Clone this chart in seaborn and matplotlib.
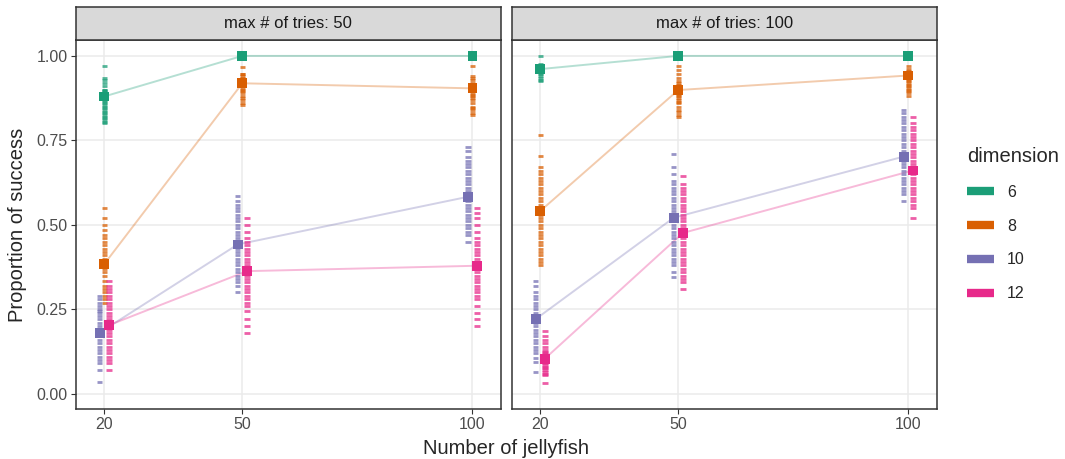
import matplotlib
matplotlib.use("Agg")
import numpy as np
import pandas as pd
import matplotlib.pyplot as plt
import seaborn as sns
from matplotlib.lines import Line2D

n_jellyfish = [20, 50, 100]
dimensions = [6, 8, 10, 12]
max_tries = [50, 100]
colors = ["#1B9E77", "#D95F02", "#7570B3", "#E7298A"]

# mean proportion of success, per dimension, at 20 / 50 / 100 jellyfish
mean_t50 = {6: [0.88, 1.0, 1.0], 8: [0.384, 0.919, 0.904],
            10: [0.181, 0.442, 0.583], 12: [0.203, 0.363, 0.379]}
mean_t100 = {6: [0.961, 1.0, 1.0], 8: [0.541, 0.899, 0.942],
             10: [0.221, 0.521, 0.702], 12: [0.104, 0.476, 0.661]}

# resampled proportions (the short dashes)
samples_t50_n20 = {
    6: [0.97, 0.935, 0.93, 0.92, 0.91, 0.90, 0.90, 0.895, 0.89, 0.885, 0.88, 0.88, 0.875, 0.87,
        0.865, 0.86, 0.855, 0.85, 0.845, 0.84, 0.835, 0.83, 0.825, 0.82, 0.815, 0.81, 0.805, 0.80],
    8: [0.55, 0.52, 0.50, 0.485, 0.47, 0.46, 0.45, 0.44, 0.43, 0.42, 0.41, 0.40, 0.39, 0.385, 0.38,
        0.375, 0.37, 0.36, 0.35, 0.335, 0.32, 0.31, 0.30, 0.29, 0.28, 0.27],
    10: [0.29, 0.28, 0.27, 0.26, 0.25, 0.245, 0.24, 0.23, 0.22, 0.21, 0.20, 0.19, 0.185, 0.18,
         0.175, 0.17, 0.16, 0.15, 0.14, 0.13, 0.12, 0.11, 0.10, 0.09, 0.07, 0.036],
    12: [0.335, 0.32, 0.31, 0.30, 0.29, 0.28, 0.27, 0.26, 0.25, 0.24, 0.23, 0.22, 0.21, 0.205,
         0.20, 0.195, 0.19, 0.18, 0.17, 0.16, 0.15, 0.14, 0.13, 0.12, 0.11, 0.10, 0.09, 0.07],
}
samples_t50_n50 = {
    6: [1.0],
    8: [0.968, 0.947, 0.945, 0.94, 0.935, 0.93, 0.925, 0.92, 0.915, 0.91, 0.905, 0.90, 0.895,
        0.89, 0.88, 0.875, 0.87, 0.86, 0.855],
    10: [0.585, 0.57, 0.56, 0.55, 0.54, 0.53, 0.52, 0.51, 0.50, 0.49, 0.48, 0.47, 0.46, 0.45,
         0.445, 0.44, 0.435, 0.43, 0.42, 0.41, 0.40, 0.39, 0.38, 0.37, 0.36, 0.35, 0.34, 0.33,
         0.32, 0.30],
    12: [0.52, 0.50, 0.48, 0.46, 0.45, 0.44, 0.43, 0.42, 0.41, 0.40, 0.39, 0.38, 0.37, 0.365,
         0.36, 0.355, 0.35, 0.34, 0.33, 0.32, 0.31, 0.30, 0.29, 0.28, 0.27, 0.26, 0.245, 0.22,
         0.20, 0.18],
}
samples_t50_n100 = {
    6: [1.0],
    8: [0.97, 0.94, 0.935, 0.93, 0.92, 0.915, 0.91, 0.905, 0.90, 0.895, 0.89, 0.885, 0.88,
        0.875, 0.87, 0.86, 0.85, 0.845, 0.84, 0.83, 0.825],
    10: [0.73, 0.72, 0.70, 0.69, 0.68, 0.67, 0.66, 0.65, 0.64, 0.63, 0.62, 0.61, 0.60, 0.59,
         0.585, 0.58, 0.575, 0.57, 0.56, 0.55, 0.54, 0.53, 0.52, 0.51, 0.50, 0.49, 0.48, 0.47,
         0.45],
    12: [0.55, 0.535, 0.52, 0.50, 0.48, 0.46, 0.45, 0.44, 0.43, 0.42, 0.41, 0.40, 0.39, 0.385,
         0.38, 0.375, 0.37, 0.36, 0.35, 0.34, 0.33, 0.32, 0.31, 0.30, 0.29, 0.28, 0.26, 0.24,
         0.22, 0.20],
}
samples_t100_n20 = {
    6: [1.0, 0.975, 0.97, 0.965, 0.96, 0.955, 0.95, 0.945, 0.94, 0.935, 0.93, 0.925],
    8: [0.765, 0.705, 0.67, 0.66, 0.65, 0.64, 0.63, 0.62, 0.61, 0.60, 0.59, 0.58, 0.57, 0.56,
        0.55, 0.545, 0.54, 0.535, 0.53, 0.52, 0.51, 0.50, 0.49, 0.48, 0.47, 0.46, 0.45, 0.44,
        0.43, 0.42, 0.41, 0.40, 0.39, 0.38],
    10: [0.335, 0.32, 0.30, 0.29, 0.28, 0.27, 0.26, 0.25, 0.24, 0.23, 0.225, 0.22, 0.215, 0.21,
         0.20, 0.19, 0.18, 0.17, 0.16, 0.15, 0.14, 0.13, 0.12, 0.105, 0.095, 0.066],
    12: [0.185, 0.17, 0.16, 0.15, 0.14, 0.13, 0.125, 0.12, 0.115, 0.11, 0.105, 0.10, 0.095,
         0.09, 0.085, 0.08, 0.075, 0.07, 0.065, 0.06, 0.055, 0.033],
}
samples_t100_n50 = {
    6: [1.0],
    8: [0.97, 0.958, 0.945, 0.935, 0.925, 0.92, 0.915, 0.91, 0.905, 0.90, 0.895, 0.89, 0.885,
        0.88, 0.875, 0.87, 0.865, 0.86, 0.85, 0.84, 0.835, 0.825, 0.82],
    10: [0.71, 0.67, 0.65, 0.63, 0.62, 0.61, 0.60, 0.59, 0.58, 0.57, 0.56, 0.55, 0.54, 0.53,
         0.525, 0.52, 0.515, 0.51, 0.50, 0.49, 0.48, 0.47, 0.46, 0.45, 0.44, 0.43, 0.42, 0.41,
         0.40, 0.39, 0.38, 0.36, 0.345],
    12: [0.645, 0.62, 0.61, 0.60, 0.59, 0.58, 0.57, 0.56, 0.55, 0.54, 0.53, 0.52, 0.51, 0.50,
         0.49, 0.48, 0.475, 0.47, 0.46, 0.45, 0.44, 0.43, 0.42, 0.41, 0.40, 0.39, 0.38, 0.37,
         0.36, 0.35, 0.34, 0.33, 0.31],
}
samples_t100_n100 = {
    6: [1.0],
    8: [0.97, 0.96, 0.955, 0.95, 0.945, 0.94, 0.935, 0.93, 0.925, 0.92, 0.915, 0.91, 0.905,
        0.90, 0.895, 0.89, 0.88],
    10: [0.84, 0.83, 0.82, 0.81, 0.80, 0.79, 0.78, 0.77, 0.76, 0.75, 0.74, 0.73, 0.72, 0.71,
         0.705, 0.70, 0.695, 0.69, 0.68, 0.67, 0.66, 0.65, 0.64, 0.63, 0.62, 0.61, 0.60, 0.59,
         0.57],
    12: [0.82, 0.80, 0.79, 0.78, 0.77, 0.76, 0.75, 0.74, 0.73, 0.72, 0.71, 0.70, 0.69, 0.68,
         0.67, 0.665, 0.66, 0.655, 0.65, 0.64, 0.63, 0.62, 0.61, 0.60, 0.59, 0.58, 0.57, 0.56,
         0.55, 0.52],
}

means = {50: mean_t50, 100: mean_t100}
samples = {
    (50, 20): samples_t50_n20, (50, 50): samples_t50_n50, (50, 100): samples_t50_n100,
    (100, 20): samples_t100_n20, (100, 50): samples_t100_n50, (100, 100): samples_t100_n100,
}

# small horizontal dodge so the groups don't sit on top of each other
dodge = {6: 0.0, 8: 0.0, 10: -1.0, 12: 1.0}
palette = dict(zip(dimensions, colors))

mean_rows = []
for t in max_tries:
    for d in dimensions:
        for n, v in zip(n_jellyfish, means[t][d]):
            mean_rows.append({"tries": t, "dimension": d, "n": n, "x": n + dodge[d], "prop": v})
mean_df = pd.DataFrame(mean_rows)

sample_rows = []
for (t, n), grp in samples.items():
    for d in dimensions:
        for v in grp[d]:
            sample_rows.append({"tries": t, "dimension": d, "n": n, "x": n + dodge[d], "prop": v})
sample_df = pd.DataFrame(sample_rows)

sns.set_theme(style="white")
plt.rcParams["font.family"] = ["Liberation Sans", "DejaVu Sans"]

fig = plt.figure(figsize=(10.65, 4.59), dpi=100)
panel_pos = [(0.0711, 0.3993), (0.4805, 0.3991)]
edge = "#333333"

for i, t in enumerate(max_tries):
    left, width = panel_pos[i]
    ax = fig.add_axes([left, 0.1089, width, 0.8039])
    m = mean_df[mean_df.tries == t]
    s = sample_df[sample_df.tries == t]

    sns.lineplot(data=m, x="x", y="prop", hue="dimension", palette=palette,
                 alpha=0.32, lw=1.4, legend=False, ax=ax, zorder=2)
    sns.scatterplot(data=s, x="x", y="prop", hue="dimension", palette=palette,
                    marker="_", s=15, linewidth=2.0, alpha=0.75, legend=False, ax=ax, zorder=3)
    sns.scatterplot(data=m, x="x", y="prop", hue="dimension", palette=palette,
                    marker="s", s=50, linewidth=0, legend=False, ax=ax, zorder=4)

    ax.set_xlim(13.8, 106.2)
    ax.set_ylim(-0.045, 1.047)
    ax.set_xticks(n_jellyfish)
    ax.set_yticks([0, 0.25, 0.5, 0.75, 1.0])
    ax.grid(True, color="#EBEBEB", lw=1.1)
    ax.set_axisbelow(True)
    ax.set_xlabel("")
    ax.set_ylabel("")
    for sp in ax.spines.values():
        sp.set_color(edge)
        sp.set_linewidth(1.1)
    ax.tick_params(axis="x", length=3.5, width=0.8, color=edge, pad=2.5,
                   labelsize=11.5, labelcolor="#4D4D4D", bottom=True)
    if i == 0:
        ax.set_yticklabels(["0.00", "0.25", "0.50", "0.75", "1.00"])
        ax.tick_params(axis="y", length=3.5, width=0.8, color=edge, pad=2.5,
                       labelsize=11.5, labelcolor="#4D4D4D", left=True)
    else:
        ax.tick_params(axis="y", left=False, labelleft=False)

    strip = fig.add_axes([left, 0.9129, width, 0.0725])
    strip.set_facecolor("#D9D9D9")
    strip.set_xticks([])
    strip.set_yticks([])
    for sp in strip.spines.values():
        sp.set_color(edge)
        sp.set_linewidth(1.1)
    strip.text(0.5, 0.5, f"max # of tries: {t}", ha="center", va="center",
               fontsize=12, color="#1A1A1A", transform=strip.transAxes)

fig.text(0.475, 0.022, "Number of jellyfish", ha="center", va="center", fontsize=14.5)
fig.text(0.016, 0.511, "Proportion of success", ha="center", va="center",
         rotation=90, fontsize=14.5)

handles = [Line2D([0], [0], color=c, lw=6, solid_capstyle="butt") for c in colors]
fig.legend(handles, [str(d) for d in dimensions], title="dimension", loc="upper left",
           bbox_to_anchor=(0.902, 0.694), frameon=False, fontsize=11.5, title_fontsize=14.5,
           handlelength=1.7, labelspacing=1.18, handletextpad=0.8, alignment="left",
           borderaxespad=0.0)

fig.savefig("out.png", dpi=100)
